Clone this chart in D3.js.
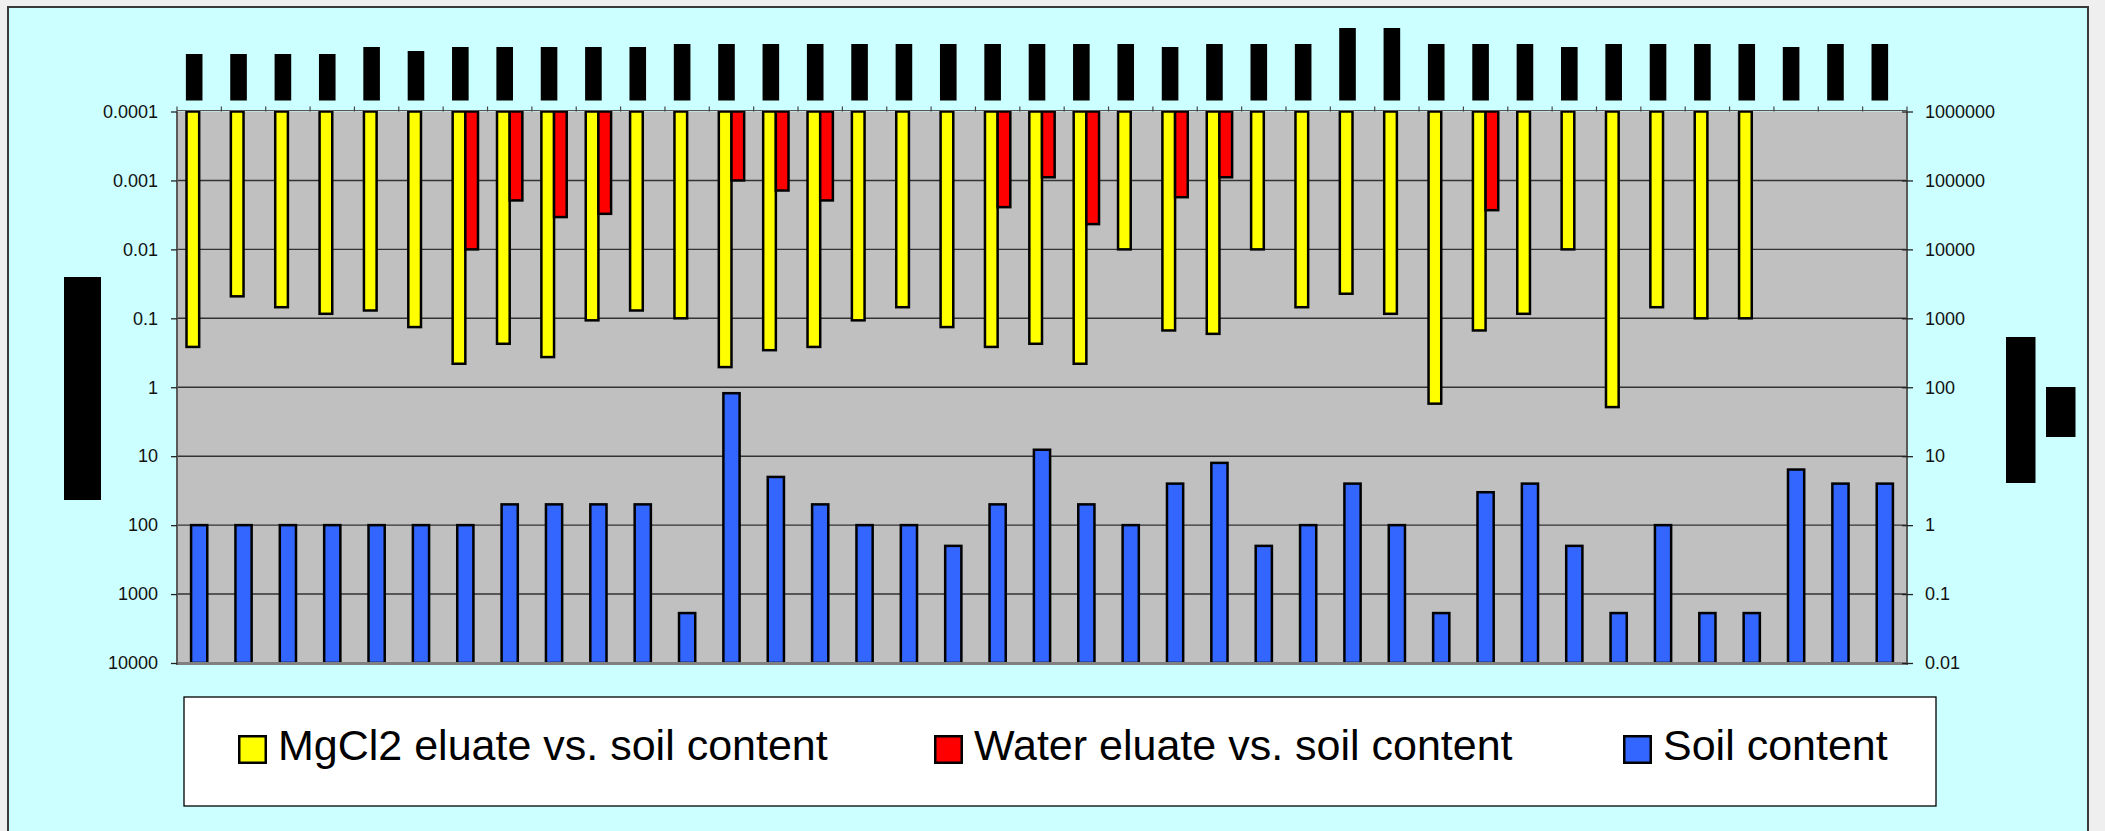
<!DOCTYPE html>
<html><head><meta charset="utf-8">
<script src="https://cdn.jsdelivr.net/npm/d3@7"></script>
<style>
html,body{margin:0;padding:0;background:#efefef;}
svg{display:block;}
text{font-family:"Liberation Sans",Arial,sans-serif;}
</style></head><body>
<svg id="chart" width="2105" height="831"></svg>
<script>
// ---- data ----
const categories = d3.range(1, 40).map(i => "Sample " + i);
const mgcl2Eluate = [0.26,0.048,0.069,0.086,0.077,0.134,0.456,0.234,0.365,0.107,0.077,0.1,
  0.51,0.29,0.26,0.107,0.069,0.134,0.26,0.234,0.456,0.01,0.15,0.168,0.01,0.069,0.044,0.086,
  1.73,0.15,0.086,0.01,1.94,0.069,0.1,0.1,null,null,null];
const waterEluate = [null,null,null,null,null,null,0.01,0.00195,0.0034,0.00305,null,null,
  0.001,0.0014,0.00195,null,null,null,0.00244,0.0009,0.0043,null,0.00175,0.0009,null,null,null,null,
  null,0.0027,null,null,null,null,null,null,null,null,null];
const soilContent = [1,1,1,1,1,1,1,2,2,2,2,0.053,
  82,5,2,1,1,0.5,2,12.4,2,1,4,8,0.5,1,4,1,
  0.053,3,4,0.5,0.053,1,0.053,0.053,6.4,4,4];
// redacted category labels (relative extent of each hidden label)
const labelExtent = [46.5,46.5,46.5,46.5,53.5,49.5,53.5,53.5,53.5,53.5,53.5,56.5,
  56.5,56.5,56.5,56.5,56.5,56.5,56.5,56.5,56.5,56.5,53.5,56.5,56.5,56.5,72.5,72.5,
  56.5,56.5,56.5,53.5,56.5,56.5,56.5,56.5,53.5,56.5,56.5];
const leftTicks = [1e-4,1e-3,1e-2,1e-1,1,10,100,1000,10000];
const leftTickLabels = ["0.0001","0.001","0.01","0.1","1","10","100","1000","10000"];
const rightTicks = [0.01,0.1,1,10,100,1000,10000,100000,1000000];
const rightTickLabels = ["0.01","0.1","1","10","100","1000","10000","100000","1000000"];
const seriesNames = ["MgCl2 eluate vs. soil content","Water eluate vs. soil content","Soil content"];
const seriesColors = ["#FFFF00","#FF0000","#3366FF"];

// ---- layout ----
const svg = d3.select("#chart");
const plot = {left: 177, right: 1907, top: 111.5, bottom: 663};

svg.append("rect").attr("x", 8).attr("y", 7).attr("width", 2080).attr("height", 840)
  .attr("fill", "#CCFFFF").attr("stroke", "#3a3a3a").attr("stroke-width", 2);

const x = d3.scaleBand().domain(categories).range([plot.left, plot.right]).padding(0);
const bw = x.bandwidth();
const sub = d3.scaleBand().domain(["mg","water"]).range([0, bw]).paddingInner(0).paddingOuter(0.75);
const subSoil = d3.scaleBand().domain(["soil"]).range([0, bw]).paddingInner(0).paddingOuter((bw / 16.2 - 1) / 2);

const yL = d3.scaleLog().domain([1e-4, 1e4]).range([plot.top, plot.bottom]);
const yR = d3.scaleLog().domain([0.01, 1e6]).range([plot.bottom, plot.top]);

// plot background
svg.append("rect").attr("x", plot.left).attr("y", plot.top)
  .attr("width", plot.right - plot.left).attr("height", plot.bottom - plot.top)
  .attr("fill", "#C0C0C0");

// gridlines
svg.append("g").selectAll("line").data(leftTicks.slice(1, -1)).join("line")
  .attr("x1", plot.left).attr("x2", plot.right)
  .attr("y1", d => yL(d)).attr("y2", d => yL(d))
  .attr("stroke", "#333").attr("stroke-width", 1.4);

const barStroke = {stroke: "#000", sw: 2.5};

// yellow bars (hang from top)
svg.append("g").selectAll("rect")
  .data(categories.map((c, i) => ({c, v: mgcl2Eluate[i]})).filter(d => d.v != null))
  .join("rect")
  .attr("x", d => x(d.c) + sub("mg")).attr("width", sub.bandwidth())
  .attr("y", yL(1e-4)).attr("height", d => yL(d.v) - yL(1e-4))
  .attr("fill", seriesColors[0]).attr("stroke", barStroke.stroke).attr("stroke-width", barStroke.sw);

// red bars
svg.append("g").selectAll("rect")
  .data(categories.map((c, i) => ({c, v: waterEluate[i]})).filter(d => d.v != null))
  .join("rect")
  .attr("x", d => x(d.c) + sub("water")).attr("width", sub.bandwidth())
  .attr("y", yL(1e-4)).attr("height", d => yL(d.v) - yL(1e-4))
  .attr("fill", seriesColors[1]).attr("stroke", barStroke.stroke).attr("stroke-width", barStroke.sw);

// blue bars (secondary axis, rise from bottom)
svg.append("g").selectAll("rect")
  .data(categories.map((c, i) => ({c, v: soilContent[i]})))
  .join("rect")
  .attr("x", d => x(d.c) + subSoil("soil")).attr("width", subSoil.bandwidth())
  .attr("y", d => yR(d.v)).attr("height", d => yR(0.01) - yR(d.v))
  .attr("fill", seriesColors[2]).attr("stroke", barStroke.stroke).attr("stroke-width", barStroke.sw);

// plot borders
svg.append("line").attr("x1", plot.left).attr("x2", plot.right).attr("y1", plot.bottom + 0.5).attr("y2", plot.bottom + 0.5)
  .attr("stroke", "#808080").attr("stroke-width", 3);
svg.append("line").attr("x1", plot.left).attr("x2", plot.left).attr("y1", plot.top).attr("y2", plot.bottom + 2)
  .attr("stroke", "#5a5a5a").attr("stroke-width", 2);
svg.append("line").attr("x1", plot.right).attr("x2", plot.right).attr("y1", plot.top).attr("y2", plot.bottom + 2)
  .attr("stroke", "#5a5a5a").attr("stroke-width", 2);
svg.append("line").attr("x1", plot.left).attr("x2", plot.right).attr("y1", plot.top - 1).attr("y2", plot.top - 1)
  .attr("stroke", "#555").attr("stroke-width", 1.2);

// top category ticks
const bounds = categories.map(c => x(c)).concat([plot.right]);
svg.append("g").selectAll("line").data(bounds).join("line")
  .attr("x1", d => d).attr("x2", d => d).attr("y1", plot.top - 5).attr("y2", plot.top)
  .attr("stroke", "#444").attr("stroke-width", 1.2);

// left axis
const gL = svg.append("g").attr("transform", `translate(${plot.left},0)`)
  .call(d3.axisLeft(yL).tickValues(leftTicks).tickFormat((d, i) => leftTickLabels[i]).tickSize(6).tickPadding(13));
gL.select(".domain").remove();
gL.selectAll("line").attr("stroke", "#222").attr("stroke-width", 1.3);
gL.selectAll("text").attr("font-size", 18).attr("font-family", '"Liberation Sans",Arial,sans-serif').attr("fill", "#111");

// right axis
const gR = svg.append("g").attr("transform", `translate(${plot.right},0)`)
  .call(d3.axisRight(yR).tickValues(rightTicks).tickFormat((d, i) => rightTickLabels[i]).tickSize(6).tickPadding(12));
gR.select(".domain").remove();
gR.selectAll("line").attr("x1", -5).attr("stroke", "#222").attr("stroke-width", 1.3);
gR.selectAll("text").attr("font-size", 18).attr("font-family", '"Liberation Sans",Arial,sans-serif').attr("fill", "#111");

// redacted category labels (black blocks)
svg.append("g").selectAll("rect").data(categories.map((c, i) => ({c, e: labelExtent[i]}))).join("rect")
  .attr("x", d => x(d.c) + bw / 2 - 5 - 8.3).attr("width", 16.6)
  .attr("y", d => 100.5 - d.e).attr("height", d => d.e)
  .attr("fill", "#000");

// redacted axis titles
svg.append("rect").attr("x", 64).attr("y", 277).attr("width", 37).attr("height", 223).attr("fill", "#000");
svg.append("rect").attr("x", 2006).attr("y", 337).attr("width", 29.5).attr("height", 146).attr("fill", "#000");
svg.append("rect").attr("x", 2046).attr("y", 387).attr("width", 29.5).attr("height", 50).attr("fill", "#000");

// legend
const lg = svg.append("g");
lg.append("rect").attr("x", 184).attr("y", 697).attr("width", 1752).attr("height", 109)
  .attr("fill", "#fff").attr("stroke", "#000").attr("stroke-width", 1.3);
const legendX = [238, 934, 1623];
seriesNames.forEach((name, i) => {
  lg.append("rect").attr("x", legendX[i] + 1.25).attr("y", 736.25).attr("width", 26.5).attr("height", 26.5)
    .attr("fill", seriesColors[i]).attr("stroke", "#000").attr("stroke-width", 2.5);
  lg.append("text").attr("x", legendX[i] + 40).attr("y", 759.5).attr("font-size", 43).attr("fill", "#000")
    .text(name);
});
</script>
</body></html>
